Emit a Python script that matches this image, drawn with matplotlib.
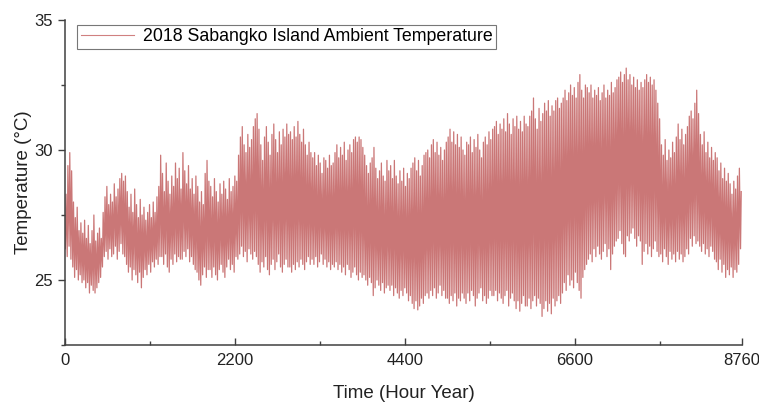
import numpy as np
import matplotlib
matplotlib.use("Agg")
import matplotlib.pyplot as plt

# Daily maximum / minimum temperatures (°C), day 0..364
daily_max = [
    28.3, 29.4, 29.9, 29.2, 28.0, 27.4, 27.8, 26.9, 27.2, 26.8,
    27.3, 26.6, 27.1, 26.4, 26.9, 27.5, 26.5, 26.8, 27.0, 26.6,
    27.6, 28.2, 28.6, 27.9, 28.3, 28.0, 28.7, 28.2, 28.5, 28.9, 29.1, 28.8, 29.0,
    28.4, 27.8, 28.3, 27.6, 28.5, 27.9, 27.4, 28.1, 27.5, 27.8, 27.3, 27.6,
    27.9, 27.4, 28.0, 27.6, 28.2, 28.6, 29.8,
    29.1, 28.4, 29.5, 28.8, 28.3, 29.0, 28.6, 29.5, 28.9, 29.3, 28.5,
    29.9, 29.2, 28.7, 29.4, 28.5, 28.9, 28.3, 29.0,
    28.6, 28.0, 28.4, 27.9, 29.1, 29.6, 28.8,
    28.6, 28.2, 28.9, 28.4, 28.0, 28.7, 28.3, 28.8, 28.5, 28.1, 28.9, 28.4, 28.6, 29.0, 28.8,
    29.8, 30.5, 30.9, 30.2, 29.9, 30.6, 30.1, 30.4, 30.9, 31.2, 31.4,
    30.8, 30.2, 29.6, 30.5, 30.9, 30.3, 29.8, 30.6, 31.0, 30.4, 29.9, 30.7, 30.2, 30.8, 30.5, 31.0, 30.6,
    30.7, 30.4, 30.9, 30.5, 31.1, 30.6, 30.3, 30.8, 30.2, 29.8, 30.3, 29.9,
    29.7, 29.9, 29.4, 29.8, 29.5, 29.1, 29.7, 29.6, 29.3, 29.8, 29.4, 29.5,
    29.9, 30.2, 29.7, 30.1, 29.8, 30.3, 29.6, 30.0, 30.2, 29.9, 30.4, 30.5, 30.3, 30.5, 30.4, 30.1, 29.8,
    29.4, 29.1, 29.5, 29.7, 30.1, 29.3, 28.9, 29.2, 29.5, 29.0, 28.8, 29.6, 29.2,
    29.4, 28.9, 29.6, 29.0, 28.7, 29.2, 28.8, 29.3, 28.6, 29.1, 28.9, 29.3,
    29.5, 29.7, 29.2, 29.6, 29.0, 29.4, 29.8, 29.9,
    30.0, 29.7, 30.2, 30.4, 29.9, 30.3, 29.8, 30.1, 29.6, 30.0, 30.3,
    30.5, 30.8, 30.3, 30.7, 30.2, 30.6, 30.1, 30.5, 30.0, 29.8, 30.3,
    30.2, 30.5, 29.9, 30.4, 30.1, 30.6, 30.0, 29.7, 30.3, 30.5, 30.2, 30.7, 30.4, 30.8,
    30.9, 31.1, 30.6, 31.0, 30.8, 31.2, 30.7, 31.4, 31.0, 30.6, 31.2, 30.9, 31.3, 30.8, 31.1, 30.7, 31.3, 31.0,
    30.9, 31.3, 31.5, 32.0, 31.2, 30.8, 31.6, 31.1,
    31.4, 31.8, 31.5, 31.9, 31.3, 31.7, 31.5, 31.9, 32.0, 31.6, 31.8,
    32.0, 32.3, 31.9, 32.2, 32.5, 32.1, 32.4, 32.0, 32.6, 32.9, 32.3, 32.0, 32.5, 32.4,
    32.2, 32.5, 32.0, 32.3, 32.1, 32.4, 31.9, 32.2, 32.5, 32.0, 32.3, 32.1, 32.6, 32.2, 32.4, 32.7,
    32.8, 33.0, 32.6, 32.9, 33.15, 32.7, 32.9, 32.5, 32.8, 32.4, 32.7, 32.3, 32.6,
    32.4, 32.7, 32.9, 32.6, 32.8, 32.5, 32.7, 32.3, 31.8, 31.2,
    30.2, 29.8, 30.4, 29.6, 30.0, 29.7, 30.3, 29.9, 30.5,
    31.0, 30.4, 30.8, 30.2, 30.6, 30.9, 31.3,
    31.5, 31.2, 31.8, 32.3, 31.4,
    30.6, 30.2, 30.7, 29.9, 30.3, 29.7, 30.1, 29.6, 29.9,
    29.7, 29.2, 29.5, 28.9, 29.3, 28.8, 29.1,
    28.7, 28.3, 28.8, 28.5, 29.0, 29.3, 28.4,
]

daily_min = [
    26.2, 25.9, 26.3, 25.8, 25.5, 25.1, 25.4, 25.0, 25.2, 24.9,
    25.0, 24.7, 24.9, 24.5, 24.8, 24.6, 24.5, 24.7, 24.9, 25.1,
    25.5, 25.9, 26.1, 25.8, 26.2, 25.9, 26.0, 26.3, 25.8, 26.1, 26.4, 26.0, 25.9,
    25.6, 25.3, 25.5, 25.0, 25.4, 25.2, 24.9, 25.3, 24.7, 25.1, 25.4, 25.2,
    25.6, 25.3, 25.7, 25.5, 25.8, 25.6, 25.9,
    25.9, 25.6, 26.0, 25.5, 25.3, 25.8, 25.6, 26.0, 25.7, 25.9, 25.8,
    25.8, 26.1, 25.9, 26.2, 25.7, 25.9, 25.6, 25.4,
    25.3, 25.0, 24.8, 25.2, 25.5, 25.1, 25.4,
    25.4, 25.1, 25.5, 25.2, 25.0, 25.4, 25.6, 25.3, 25.1, 25.5, 25.8, 25.4, 25.6, 25.3, 25.9,
    25.8, 26.0, 26.3, 25.9, 26.1, 25.7, 26.2, 26.0, 25.8, 26.1, 25.9,
    25.6, 25.3, 25.7, 25.5, 25.9, 25.4, 25.2, 25.6, 25.8, 25.4, 25.7, 26.0, 25.5, 25.3, 25.6, 25.8, 25.5,
    25.5, 25.3, 25.6, 25.4, 25.7, 25.5, 25.8, 25.6, 25.4, 25.7, 25.9, 25.6,
    25.8, 25.6, 25.9, 25.5, 25.7, 26.0, 25.6, 25.8, 25.5, 25.7, 25.4, 25.6,
    25.5, 25.7, 25.4, 25.6, 25.3, 25.5, 25.2, 25.6, 25.4, 25.1, 25.3, 25.5, 25.2, 25.0, 25.3, 25.1, 25.2,
    25.0, 24.8, 25.1, 24.9, 24.4, 24.7, 25.0, 24.8, 24.6, 24.9, 24.5, 24.7, 24.8,
    24.6, 24.8, 24.4, 24.7, 24.5, 24.3, 24.6, 24.4, 24.7, 24.5, 24.2, 24.4,
    24.1, 23.9, 24.2, 23.85, 24.0, 24.3, 24.1, 24.4,
    24.5, 24.3, 24.6, 24.4, 24.7, 24.3, 24.5, 24.8, 24.4, 24.6, 24.3,
    24.3, 24.1, 24.4, 24.2, 24.5, 24.0, 24.3, 24.2, 24.5, 24.3, 24.1,
    24.5, 24.2, 24.6, 24.4, 24.0, 24.3, 24.5, 24.7, 24.2, 24.4, 24.1, 24.3, 24.6, 24.4,
    24.4, 24.6, 24.2, 24.5, 24.3, 24.1, 24.4, 24.6, 24.0, 24.3, 24.5, 24.2, 23.9, 24.2, 23.8, 24.1, 24.4, 24.0,
    24.0, 24.3, 23.9, 24.2, 24.4, 24.0, 24.3, 24.1,
    23.6, 23.9, 24.2, 23.8, 24.1, 23.7, 24.3, 24.0, 24.2, 24.4, 24.1,
    24.5, 24.9, 24.6, 25.2, 24.8, 25.0, 24.7, 25.3, 24.9, 24.6, 24.3, 25.1, 25.4, 25.6,
    25.8, 26.0, 25.7, 26.2, 25.9, 26.3, 26.0, 25.8, 26.1, 26.4, 25.9, 26.2, 25.4, 26.0, 26.3, 26.5,
    26.6, 26.9, 26.4, 26.0, 25.9, 26.7, 26.5, 26.8, 27.0, 26.6, 26.3, 26.7, 26.5,
    25.6, 26.1, 26.4, 26.0, 26.3, 25.9, 26.2, 26.5, 26.1, 25.9,
    26.0, 25.7, 26.2, 25.9, 25.6, 26.1, 25.8, 26.0, 25.7,
    26.1, 25.8, 26.0, 25.7, 25.9, 26.2, 26.0,
    26.6, 26.3, 26.7, 26.4, 26.5,
    26.3, 26.1, 26.4, 26.0, 26.2, 25.9, 26.3, 26.1, 25.8,
    25.7, 25.4, 25.8, 25.3, 25.6, 25.1, 25.4,
    25.2, 25.5, 25.1, 25.4, 25.3, 25.6, 26.2,
]

x_ticks = [0, 2200, 4400, 6600, 8760]
x_minor = [1100, 3300, 5500, 7700]
y_ticks = [25, 30, 35]
y_minor = [22.5, 27.5, 32.5]
series_label = "2018 Sabangko Island Ambient Temperature"

plt.rcParams['font.family'] = ['Liberation Sans', 'DejaVu Sans']

# Build the hourly trace: each day goes through its min (early morning) and max (afternoon)
n = min(len(daily_max), len(daily_min))
days = np.arange(n)
hours = np.empty(2 * n)
temps = np.empty(2 * n)
hours[0::2] = days * 24 + 5
hours[1::2] = days * 24 + 14
temps[0::2] = np.array(daily_min[:n])
temps[1::2] = np.array(daily_max[:n])

fig = plt.figure(figsize=(7.59, 4.03), dpi=100)
ax = fig.add_axes([0.0856, 0.1439, 0.8920, 0.8065])

ax.plot(hours, temps, color='#a81c1c', lw=0.9, alpha=0.6, label=series_label)

ax.set_xlim(0, 8760)
ax.set_ylim(22.5, 35)
ax.set_xticks(x_ticks)
ax.set_xticks(x_minor, minor=True)
ax.set_yticks(y_ticks)
ax.set_yticks(y_minor, minor=True)

for s in ['top', 'right']:
    ax.spines[s].set_visible(False)
for s in ['left', 'bottom']:
    ax.spines[s].set_color('#404040')
    ax.spines[s].set_linewidth(1.1)

ax.tick_params(axis='x', which='major', direction='in', length=5, width=1.0,
               color='#404040', labelsize=12, pad=6, labelcolor='#222222')
ax.tick_params(axis='x', which='minor', direction='in', length=3, width=1.0, color='#404040')
ax.tick_params(axis='y', which='major', direction='out', length=5, width=1.0,
               color='#404040', labelsize=12, pad=4, labelcolor='#222222')
ax.tick_params(axis='y', which='minor', direction='out', length=3, width=1.0, color='#404040')

ax.set_xlabel("Time (Hour Year)", fontsize=13.5, labelpad=12, color='#222222')
ax.set_ylabel("Temperature (°C)", fontsize=13.5, labelpad=1, color='#222222')

leg = ax.legend(loc='upper left', bbox_to_anchor=(0.018, 0.985), fontsize=12.8,
                frameon=True, fancybox=False, handlelength=3.0, borderpad=0.2,
                handletextpad=0.5, borderaxespad=0.0)
leg.get_frame().set_edgecolor('#555555')
leg.get_frame().set_linewidth(0.8)
for h in leg.get_lines():
    h.set_color('#d08080')
    h.set_alpha(1.0)
    h.set_linewidth(0.8)

fig.savefig("out.png", dpi=100)
